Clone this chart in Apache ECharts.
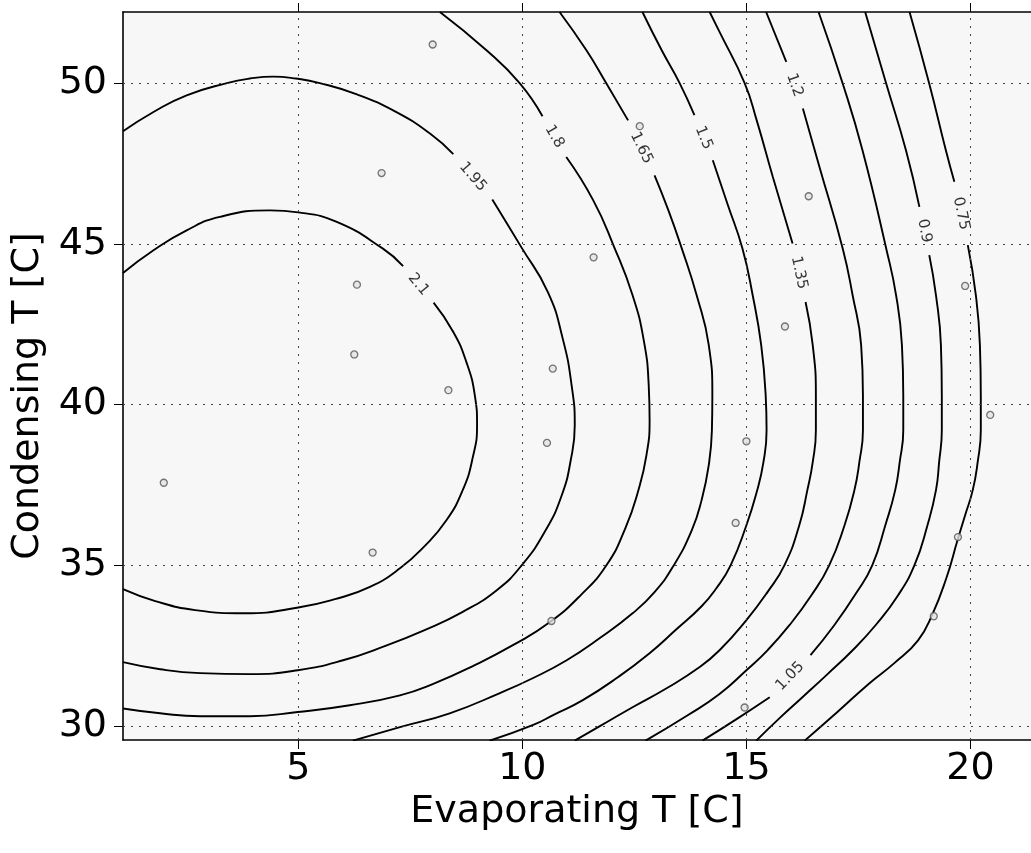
<!DOCTYPE html>
<html>
<head>
<meta charset="utf-8">
<script src="https://cdn.jsdelivr.net/npm/echarts@6.0.0/dist/echarts.min.js"></script>
<style>
  html, body { margin: 0; padding: 0; background: #ffffff; }
  #chart { width: 1031px; height: 853px; }
</style>
</head>
<body>
<div id="chart"></div>
<script>
// Tick values on both axes
const evapTicks = [5, 10, 15, 20];
const condTicks = [30, 35, 40, 45, 50];

// Measured operating points: evaporating / condensing temperature [C]
const evapT = [6.86, 8.00, 12.62, 16.39, 6.31, 6.25, 2.00, 11.59, 8.35, 10.68, 10.55,
               19.88, 15.86, 20.44, 15.00, 6.66, 10.65, 14.76, 19.72, 19.18, 14.96];
const condT = [47.20, 51.20, 48.66, 46.48, 43.73, 41.56, 37.57, 44.58, 40.45, 41.12, 38.81,
               43.69, 42.43, 39.68, 38.86, 35.40, 33.27, 36.32, 35.88, 33.42, 30.58];

// Contour levels and their iso-lines [evap, cond]; null marks the gap left for the inline label
const contourLevels = ['2.1', '1.95', '1.8', '1.65', '1.5', '1.35', '1.2', '1.05', '0.9', '0.75'];

const c210 = [[1.09,44.09],[1.77,44.80],[2.51,45.42],[3.25,45.84],[4.37,46.04],[5.00,45.98],[5.86,45.68],
  [6.89,44.85],[7.34,44.31], null, [8.02,43.17],[8.46,42.26],[8.75,41.33],[8.94,40.29],[8.99,39.36],
  [8.89,38.33],[8.67,37.34],[8.31,36.41],[7.82,35.60],[7.27,34.91],[6.60,34.33],[5.82,33.95],
  [5.00,33.69],[3.81,33.51],[2.70,33.61],[1.81,33.89],[1.09,34.26]];

const c195 = [[1.09,48.50],[1.77,49.10],[2.51,49.62],[3.41,50.00],[3.92,50.14],[4.44,50.20],[4.95,50.14],
  [5.48,50.00],[6.31,49.65],[7.16,49.12],[7.94,48.43],[8.46,47.79], null, [9.33,46.38],[9.98,44.89],
  [10.57,43.50],[10.90,42.06],[11.10,40.60],[11.17,39.36],[11.08,38.27],[10.88,37.18],[10.52,36.09],
  [9.99,35.01],[9.43,34.23],[8.65,33.54],[7.82,32.99],[6.93,32.49],[6.00,32.05],[4.99,31.74],
  [3.92,31.62],[2.81,31.65],[1.92,31.77],[1.09,31.99]];

const c180 = [[8.16,52.21],[9.20,51.02],[9.94,50.00],[10.45,48.97], null, [10.98,47.70],[11.58,46.36],
  [12.04,44.93],[12.46,43.40],[12.71,42.00],[12.82,40.60],[12.84,39.51],[12.77,38.43],[12.59,37.34],
  [12.30,36.16],[11.88,35.01],[11.30,34.07],[10.61,33.23],[9.83,32.55],[8.94,31.90],[8.00,31.31],
  [7.27,30.96],[6.15,30.65],[4.99,30.44],[3.92,30.31],[2.81,30.31],[1.92,30.40],[1.09,30.55]];

const c165 = [[10.83,52.21],[11.43,51.02],[11.87,50.00],[12.36,48.84], null, [12.95,47.13],[13.26,46.04],
  [13.55,44.89],[13.89,43.40],[14.16,41.85],[14.24,40.29],[14.23,39.20],[14.16,38.12],[14.00,37.03],
  [13.78,36.09],[13.37,34.98],[12.95,34.17],[12.46,33.51],[11.73,32.74],[10.99,32.05],[10.23,31.49],
  [9.50,31.03],[8.38,30.40],[7.27,29.97],[6.22,29.55]];

const c150 = [[12.68,52.21],[13.11,51.02],[13.51,50.00],[13.84,49.00], null, [14.25,47.60],[14.58,46.23],
  [14.91,44.86],[15.14,43.40],[15.33,41.85],[15.43,40.29],[15.45,39.20],[15.38,38.21],[15.23,37.28],
  [15.00,36.25],[14.65,35.01],[14.33,34.29],[14.00,33.73],[13.42,32.99],[12.84,32.27],[12.13,31.52],
  [11.35,30.81],[10.72,30.37],[10.23,30.03],[9.27,29.55]];

const c135 = [[14.18,52.21],[14.40,51.59],[14.96,50.00],[15.23,48.84],[15.59,47.08],[16.03,45.01], null,
  [16.32,43.19],[16.48,41.85],[16.55,40.29],[16.55,39.20],[16.48,38.21],[16.36,37.34],[16.18,36.25],
  [15.85,35.01],[15.47,34.17],[15.00,33.30],[14.40,32.36],[13.95,31.83],[13.22,31.18],[12.46,30.59],
  [11.73,30.00],[11.17,29.55]];

const c120 = [[15.44,52.21],[15.89,50.66], null, [16.26,49.21],[16.63,47.39],[17.15,44.85],[17.37,43.40],
  [17.56,41.85],[17.60,40.29],[17.60,39.20],[17.52,38.21],[17.41,37.34],[17.19,36.25],[16.85,35.01],
  [16.45,34.07],[15.96,33.14],[15.47,32.36],[15.00,31.74],[14.40,31.00],[13.69,30.34],[12.75,29.55]];

const c105 = [[16.61,52.21],[17.15,49.98],[17.59,47.91],[18.12,44.85],[18.34,43.40],[18.47,41.85],
  [18.50,40.29],[18.50,39.20],[18.42,38.21],[18.32,37.34],[18.10,36.25],[17.81,35.01],[17.45,34.14],
  [16.96,33.14],[16.43,32.21], null, [15.52,30.90],[14.78,30.22],[14.02,29.55]];

const c090 = [[17.65,52.21],[18.12,49.98],[18.56,47.91],[18.86,46.15], null, [19.08,44.65],[19.23,43.40],
  [19.34,41.85],[19.36,40.29],[19.36,39.20],[19.30,38.21],[19.23,37.34],[19.04,36.25],[18.75,35.01],
  [18.37,34.04],[17.90,33.17],[17.37,32.36],[16.81,31.62],[16.25,30.90],[15.74,30.25],[15.22,29.55]];

const c075 = [[18.64,52.21],[19.08,49.98],[19.45,47.91],[19.64,46.93], null, [19.94,44.96],[20.12,43.40],
  [20.21,41.85],[20.23,40.29],[20.23,39.20],[20.16,38.21],[20.05,37.34],[19.88,36.56],[19.71,35.78],
  [19.46,34.60],[19.15,33.48],[18.83,32.67],[18.30,31.96],[17.74,31.33],[17.03,30.44],[16.30,29.55]];

const contourLines = [c210, c195, c180, c165, c150, c135, c120, c105, c090, c075];

// Axis extents
const X_MIN = 1.09, X_MAX = 21.35;
const Y_MIN = 29.57, Y_MAX = 52.21;

const FONT = 'DejaVu Sans';

// split a contour at its label gap
function splitAtGap(line) {
  const parts = [[]];
  line.forEach(p => { if (p === null) parts.push([]); else parts[parts.length - 1].push(p); });
  return parts;
}

const chart = echarts.init(document.getElementById('chart'), null, { renderer: 'canvas' });

const tickStyle = { show: true, inside: false, length: 9, lineStyle: { color: '#000', width: 1 } };
const axisLineStyle = { show: true, onZero: false, lineStyle: { color: '#000', width: 1.6 } };

function baseSeries() {
  const series = [];
  // dotted reference grid
  series.push({
    type: 'scatter', data: [], silent: true, z: 1,
    markLine: {
      silent: true, symbol: ['none', 'none'], label: { show: false }, animation: false,
      lineStyle: { type: [2, 6], color: '#444', width: 1 },
      data: evapTicks.map(v => ({ xAxis: v })).concat(condTicks.map(v => ({ yAxis: v })))
    }
  });
  contourLines.forEach((line, i) => {
    splitAtGap(line).forEach(seg => {
      series.push({
        type: 'line', name: contourLevels[i], data: seg, smooth: 0.5, symbol: 'none',
        showSymbol: false, silent: true, clip: true, z: 3, animation: false,
        lineStyle: { color: '#000', width: 1.9 }
      });
    });
  });
  series.push({
    type: 'scatter', data: evapT.map((x, i) => [x, condT[i]]), symbol: 'circle', symbolSize: 7,
    z: 5, silent: true, animation: false,
    itemStyle: { color: '#e2e2e2', borderColor: '#555555', borderWidth: 1.3 }
  });
  return series;
}

const option = {
  animation: false,
  backgroundColor: '#ffffff',
  grid: { left: 123, top: 12, width: 909, height: 728, show: true, backgroundColor: '#f7f7f7', borderWidth: 0 },
  xAxis: [
    {
      type: 'value', min: X_MIN, max: X_MAX, position: 'bottom',
      name: 'Evaporating T [C]', nameLocation: 'middle', nameGap: 38,
      nameTextStyle: { fontFamily: FONT, fontSize: 38, color: '#000' },
      axisLine: axisLineStyle,
      axisTick: Object.assign({ customValues: evapTicks }, tickStyle),
      axisLabel: { customValues: evapTicks, margin: 10, fontFamily: FONT, fontSize: 38, color: '#000' },
      splitLine: { show: false }
    },
    {
      type: 'value', min: X_MIN, max: X_MAX, position: 'top',
      axisLine: axisLineStyle,
      axisTick: Object.assign({ customValues: evapTicks }, tickStyle),
      axisLabel: { show: false }, splitLine: { show: false }
    }
  ],
  yAxis: [
    {
      type: 'value', min: Y_MIN, max: Y_MAX, position: 'left',
      name: 'Condensing T [C]', nameLocation: 'middle', nameGap: 76, nameRotate: 90,
      nameTextStyle: { fontFamily: FONT, fontSize: 38, color: '#000', padding: [0, 40, 0, 0] },
      axisLine: axisLineStyle,
      axisTick: Object.assign({ customValues: condTicks }, tickStyle),
      axisLabel: { customValues: condTicks, margin: 16, fontFamily: FONT, fontSize: 38, color: '#000' },
      splitLine: { show: false }
    }
  ],
  series: baseSeries()
};

chart.setOption(option);

// inline contour labels, centred in each gap and turned along the line
const labelData = [];
contourLines.forEach((line, i) => {
  const g = line.indexOf(null);
  if (g < 1) return;
  const a = line[g - 1], b = line[g + 1];
  const pa = chart.convertToPixel({ gridIndex: 0 }, a);
  const pb = chart.convertToPixel({ gridIndex: 0 }, b);
  let ang = Math.atan2(-(pb[1] - pa[1]), pb[0] - pa[0]) * 180 / Math.PI;
  if (ang > 90) ang -= 180;
  if (ang <= -90) ang += 180;
  labelData.push({
    value: [(a[0] + b[0]) / 2, (a[1] + b[1]) / 2],
    label: { formatter: contourLevels[i], rotate: ang }
  });
});

const series = baseSeries();
series.push({
  type: 'scatter', data: labelData, symbolSize: 0, silent: true, z: 6, animation: false,
  label: { show: true, position: 'inside', fontFamily: FONT, fontSize: 15, color: '#000' }
});
option.series = series;
chart.setOption(option, true);
</script>
</body>
</html>
